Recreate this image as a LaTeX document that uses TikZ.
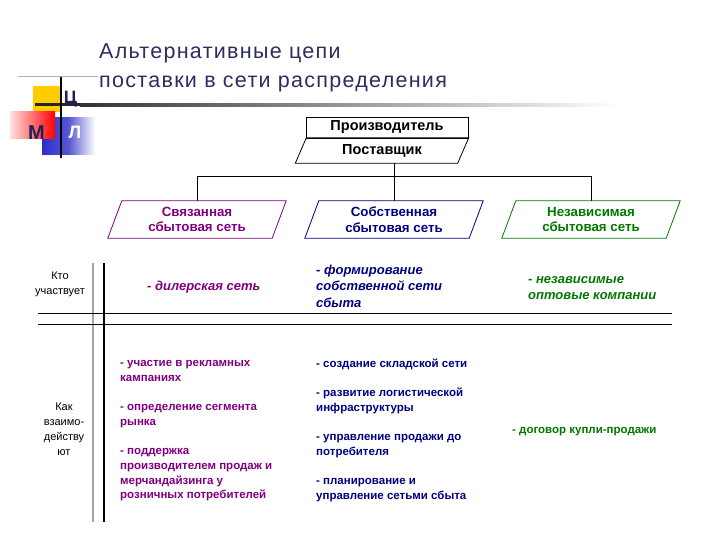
\documentclass[tikz,border=0pt]{standalone}
\usepackage{fontspec}
\setmainfont{Liberation Sans}
\newfontfamily\titlefont[LetterSpace=6]{Liberation Sans}
\definecolor{ttl}{RGB}{45,45,95}
\definecolor{pur}{RGB}{128,0,128}
\definecolor{nav}{RGB}{0,0,128}
\definecolor{grn}{RGB}{0,120,0}
\definecolor{goldy}{RGB}{255,204,0}
\definecolor{lblue}{RGB}{45,45,200}
\definecolor{logoink}{RGB}{30,30,90}
\newcommand\paraframe[3]{\draw[#3] ([xshift=#2]#1.north west) -- ([xshift=#2]#1.north east) -- ([xshift=-#2]#1.south east) -- ([xshift=-#2]#1.south west) -- cycle;}
\tikzset{
  chartbox/.style={inner sep=0pt, align=center, font=\bfseries\fontsize{14.5}{16}\selectfont},
  netbox/.style={inner sep=0pt, minimum width=164, minimum height=37, align=center, font=\bfseries\fontsize{13.3}{15.8}\selectfont},
  who/.style={inner sep=0pt, align=left, anchor=north west, font=\bfseries\itshape\fontsize{13}{16.5}\selectfont},
  how/.style={inner sep=0pt, align=left, anchor=north west, font=\bfseries\fontsize{11.5}{14.7}\selectfont},
  rowhead/.style={inner sep=0pt, align=center, font=\fontsize{11}{15}\selectfont},
  conn/.style={draw=black, line width=0.8pt}
}
\begin{document}
\begin{tikzpicture}[x=1pt,y=-1pt]
\useasboundingbox (0,0) rectangle (720,540);
% ---- logo ----
\draw[gray!60, line width=0.8pt] (18,76) -- (98,76);
\fill[goldy] (33,86) rectangle (61,112);
\fill[left color=lblue, right color=white, middle color=lblue!80] (42,118) rectangle (95,155);
\fill[left color=red!12, right color=red] (10,112) rectangle (55,139);
\fill[black!85] (35,103.5) rectangle (80,106.5);
\fill[left color=black!80, middle color=black!40, right color=white] (80,103.5) rectangle (620,106.5);
\draw[black, line width=2.2pt] (61,77) -- (61,158);
\node[inner sep=0, text=logoink, font=\bfseries\fontsize{18}{18}\selectfont] (lc) at (70.5,99) {Ц};
\node[inner sep=0, text=logoink, font=\bfseries\fontsize{20}{20}\selectfont] (lm) at (36.5,133) {М};
\node[inner sep=0, text=white, font=\bfseries\fontsize{18}{18}\selectfont] (ll) at (75,132) {Л};
% ---- title ----
\node[inner sep=0, anchor=north west, align=left, text=ttl, font=\titlefont\fontsize{21.5}{29}\selectfont] (title) at (99,37.7) {\strut Альтернативные цепи\\поставки в сети распределения};
% ---- chart ----
\node[chartbox, draw=black, line width=0.8pt, minimum width=162, minimum height=21] (prod) at (387,127.5) {Производитель};
\node[chartbox, minimum width=162, minimum height=25] (post) at (382,150.5) {Поставщик};
\paraframe{post}{5.5}{black, line width=0.8pt}
\node[netbox, text=pur] (svs) at (197,219.5) {Связанная\\сбытовая сеть};
\paraframe{svs}{7}{pur, line width=0.8pt}
\node[netbox, text=nav] (sobs) at (394,219.5) {Собственная\\сбытовая сеть};
\paraframe{sobs}{7}{nav, line width=0.8pt}
\node[netbox, text=grn] (nezs) at (591,219.5) {Независимая\\сбытовая сеть};
\paraframe{nezs}{7}{grn, line width=0.8pt}
\coordinate (bus) at (394,177);
\draw[conn] ([xshift=12]post.south) -- ([xshift=12]post.south |- bus);
\draw[conn] (svs.north) -- ++(0,-24) -| (nezs.north);
\draw[conn] (bus) -- (sobs.north);
% ---- table ----
\draw[gray!70, line width=1.2pt] (93,263) -- (93,522);
\draw[black, line width=1.2pt] (104,263) -- (104,522);
\draw[black, line width=1pt] (38,313) -- (672,313);
\draw[black, line width=1pt] (38,324) -- (672,324);
\node[rowhead] (kto) at (60,284.5) {Кто\\участвует};
\node[rowhead] (kak) at (64,429.5) {Как\\взаимо-\\действу\\ют};
\node[who, text=pur, anchor=west] (w1) at (147,287) {- дилерская сеть};
\node[who, text=nav] (w2) at (316,262.5) {\strut- формирование\\собственной сети\\сбыта};
\node[who, text=grn] (w3) at (528,271.5) {\strut- независимые\\оптовые компании};
\node[how, text=pur] (h1) at (120,356.2) {\strut- участие в рекламных\\кампаниях};
\node[how, text=pur] (h2) at (120,400.2) {\strut- определение сегмента\\рынка};
\node[how, text=pur] (h3) at (120,444.2) {\strut- поддержка\\производителем продаж и\\мерчандайзинга у\\розничных потребителей};
\node[how, text=nav] (h4) at (316,357.2) {\strut- создание складской сети};
\node[how, text=nav] (h5) at (316,386.2) {\strut- развитие логистической\\инфраструктуры};
\node[how, text=nav] (h6) at (316,430.2) {\strut- управление продажи до\\потребителя};
\node[how, text=nav] (h7) at (316,474.2) {\strut- планирование и\\управление сетьми сбыта};
\node[how, text=grn] (h8) at (512,423.2) {\strut- договор купли-продажи};
\end{tikzpicture}
\end{document}
